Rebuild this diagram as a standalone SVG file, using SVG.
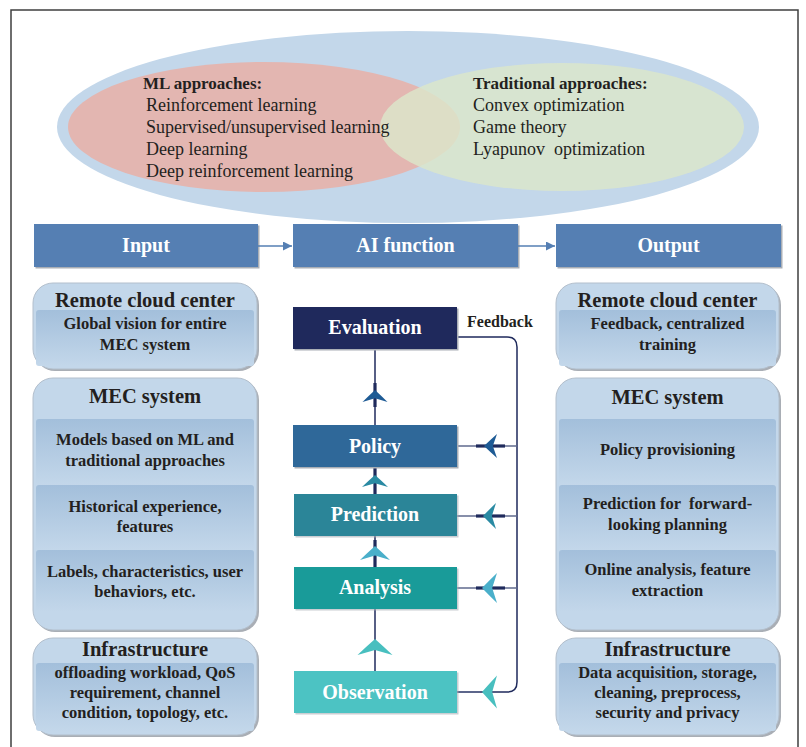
<svg xmlns="http://www.w3.org/2000/svg" width="806" height="747" viewBox="0 0 806 747">
<defs>
<style>
.t{font-family:"Liberation Serif","Times New Roman",serif;fill:#231f20}
.b{font-weight:bold}
.pre{white-space:pre}
.hd{font-family:"Liberation Serif","Times New Roman",serif;font-weight:bold;font-size:20px;fill:#ffffff;text-anchor:middle}
.pt{font-family:"Liberation Serif","Times New Roman",serif;font-weight:bold;font-size:20.5px;fill:#231f20;text-anchor:middle}
.it{font-family:"Liberation Serif","Times New Roman",serif;font-weight:bold;font-size:16.5px;fill:#231f20;text-anchor:middle}
.head{fill:#557fb3}
.shadow{fill:#a9aeb5}
.panel{fill:#c3d7ea;stroke:#b3bfcc;stroke-width:1}
.band{fill:url(#bandg)}
.ln{stroke:#1f2a5c;stroke-width:1.5;fill:none}
.thick{stroke:#1f2a5c;stroke-width:3.2;fill:none}
.hl{stroke:#5f6a8e;stroke-width:1.5;fill:none}
</style>
<linearGradient id="bandg" x1="0" y1="0" x2="0" y2="1">
<stop offset="0" stop-color="#a3bfdb"/>
<stop offset="1" stop-color="#c3d7ea"/>
</linearGradient>
<path id="ah" d="M0,0 Q0.52,0.5 1,1 L0,0.68 L-1,1 Q-0.52,0.5 0,0 Z"/>
<marker id="tri" viewBox="0 0 10 10" refX="10" refY="5" markerWidth="9" markerHeight="9" markerUnits="userSpaceOnUse" orient="auto">
<path d="M0,0 L10,5 L0,10 Z" fill="#557fb3"/>
</marker>
</defs>

<rect x="0" y="0" width="806" height="747" fill="#ffffff"/>
<path d="M11,747 V10 H798 V747" fill="none" stroke="#3f3f3f" stroke-width="1.5"/>

<g id="venn">
<ellipse cx="408" cy="127" rx="351" ry="96" fill="#c3d7ea"/>
<ellipse cx="264" cy="127" rx="196" ry="65" fill="#e3b6b1"/>
<ellipse cx="562" cy="127" rx="182" ry="64" fill="#dce7cb" fill-opacity="0.82"/>
<text class="t b" x="143" y="89" font-size="17">ML approaches:</text>
<text class="t" x="146" y="111" font-size="18">Reinforcement learning</text>
<text class="t" x="146" y="133" font-size="18">Supervised/unsupervised learning</text>
<text class="t" x="146" y="155" font-size="18">Deep learning</text>
<text class="t" x="146" y="177" font-size="18">Deep reinforcement learning</text>
<text class="t b" x="473" y="89" font-size="17">Traditional approaches:</text>
<text class="t" x="473" y="111" font-size="18">Convex optimization</text>
<text class="t" x="473" y="133" font-size="18">Game theory</text>
<text class="t pre" x="473" y="155" font-size="18">Lyapunov  optimization</text>
</g>

<g id="header-input">
<rect class="shadow" x="35.5" y="225.5" width="224" height="43"/>
<rect class="head" x="34" y="224" width="224" height="43"/>
<text class="hd" x="146" y="252">Input</text>
</g>
<g id="header-ai">
<rect class="shadow" x="294.5" y="225.5" width="225" height="43"/>
<rect class="head" x="293" y="224" width="225" height="43"/>
<text class="hd" x="405.5" y="252">AI function</text>
</g>
<g id="header-output">
<rect class="shadow" x="557.5" y="225.5" width="225" height="43"/>
<rect class="head" x="556" y="224" width="225" height="43"/>
<text class="hd" x="668.5" y="252">Output</text>
</g>

<g id="left-cloud">
<rect class="shadow" x="35" y="285" width="224" height="86" rx="20"/>
<rect class="panel" x="33" y="283" width="224" height="86" rx="20"/>
<rect class="band" x="36" y="310" width="218" height="56" rx="3"/>
<text class="pt" x="145" y="307">Remote cloud center</text>
<text class="it" x="145" y="329">Global vision for entire</text>
<text class="it" x="145" y="350">MEC system</text>
</g>
<g id="left-mec">
<rect class="shadow" x="35" y="380" width="224" height="252" rx="20"/>
<rect class="panel" x="33" y="378" width="224" height="252" rx="20"/>
<rect class="band" x="36" y="419" width="218" height="66" rx="3"/>
<rect class="band" x="36" y="485" width="218" height="65" rx="3"/>
<rect class="band" x="36" y="550" width="218" height="62" rx="3"/>
<text class="pt" x="145" y="403">MEC system</text>
<text class="it" x="145" y="445">Models based on ML and</text>
<text class="it" x="145" y="466">traditional approaches</text>
<text class="it" x="145" y="512">Historical experience,</text>
<text class="it" x="145" y="532">features</text>
<text class="it" x="145" y="577">Labels, characteristics, user</text>
<text class="it" x="145" y="597">behaviors, etc.</text>
</g>
<g id="left-infra">
<rect class="shadow" x="35" y="640" width="224" height="97" rx="20"/>
<rect class="panel" x="33" y="638" width="224" height="97" rx="20"/>
<rect class="band" x="36" y="663" width="218" height="68" rx="3"/>
<text class="pt" x="145" y="656">Infrastructure</text>
<text class="it" x="145" y="678">offloading workload, QoS</text>
<text class="it" x="145" y="698">requirement, channel</text>
<text class="it" x="145" y="718">condition, topology, etc.</text>
</g>

<g id="right-cloud">
<rect class="shadow" x="558" y="285" width="223" height="86" rx="20"/>
<rect class="panel" x="556" y="283" width="223" height="86" rx="20"/>
<rect class="band" x="559" y="310" width="217" height="56" rx="3"/>
<text class="pt" x="667.5" y="307">Remote cloud center</text>
<text class="it" x="667.5" y="329">Feedback, centralized</text>
<text class="it" x="667.5" y="350">training</text>
</g>
<g id="right-mec">
<rect class="shadow" x="558" y="380" width="223" height="252" rx="20"/>
<rect class="panel" x="556" y="378" width="223" height="252" rx="20"/>
<rect class="band" x="559" y="419" width="217" height="66" rx="3"/>
<rect class="band" x="559" y="485" width="217" height="65" rx="3"/>
<rect class="band" x="559" y="550" width="217" height="62" rx="3"/>
<text class="pt" x="667.5" y="404">MEC system</text>
<text class="it" x="667.5" y="455">Policy provisioning</text>
<text class="it pre" x="667.5" y="509">Prediction for  forward-</text>
<text class="it" x="667.5" y="530">looking planning</text>
<text class="it" x="667.5" y="575">Online analysis, feature</text>
<text class="it" x="667.5" y="596">extraction</text>
</g>
<g id="right-infra">
<rect class="shadow" x="558" y="640" width="223" height="97" rx="20"/>
<rect class="panel" x="556" y="638" width="223" height="97" rx="20"/>
<rect class="band" x="559" y="663" width="217" height="68" rx="3"/>
<text class="pt" x="667.5" y="656">Infrastructure</text>
<text class="it" x="667.5" y="678">Data acquisition, storage,</text>
<text class="it" x="667.5" y="698">cleaning, preprocess,</text>
<text class="it" x="667.5" y="718">security and privacy</text>
</g>

<g id="connectors">
<line x1="258" y1="246" x2="292" y2="246" stroke="#557fb3" stroke-width="1.5" marker-end="url(#tri)"/>
<line x1="518" y1="246" x2="555" y2="246" stroke="#557fb3" stroke-width="1.5" marker-end="url(#tri)"/>

<path class="ln" d="M457,337 H507 Q517,337 517,347 V682 Q517,692 507,692 H457"/>
<line class="ln" x1="375" y1="349" x2="375" y2="425"/>
<line class="thick" x1="375" y1="383" x2="375" y2="407"/>
<line class="thick" x1="375" y1="467" x2="375" y2="494"/>
<line class="ln" x1="375" y1="536" x2="375" y2="567"/>
<line class="thick" x1="375" y1="540" x2="375" y2="567"/>
<line class="ln" x1="375" y1="609" x2="375" y2="671"/>

<line class="hl" x1="457" y1="446" x2="517" y2="446"/>
<line class="thick" x1="476" y1="446" x2="505" y2="446"/>
<line class="hl" x1="457" y1="516" x2="517" y2="516"/>
<line class="thick" x1="476" y1="516" x2="505" y2="516"/>
<line class="hl" x1="457" y1="588" x2="517" y2="588"/>
<line class="thick" x1="476" y1="588" x2="505" y2="588"/>
<line class="hl" x1="457" y1="692" x2="480" y2="692"/>

<use href="#ah" transform="translate(375,390) scale(12.5,12)" fill="#1e5b95"/>
<use href="#ah" transform="translate(375,475) scale(13,12)" fill="#2a8aa3"/>
<use href="#ah" transform="translate(375,546) scale(15,14)" fill="#4aafca"/>
<use href="#ah" transform="translate(375,639) scale(17.5,16)" fill="#48bfbf"/>

<use href="#ah" transform="translate(484,446) rotate(-90) scale(12,13)" fill="#1e5b95"/>
<use href="#ah" transform="translate(483,516) rotate(-90) scale(13,13)" fill="#2a8aa3"/>
<use href="#ah" transform="translate(482,588) rotate(-90) scale(15,15)" fill="#4aafca"/>
<use href="#ah" transform="translate(482,692) rotate(-90) scale(16.5,15)" fill="#48bfbf"/>
</g>

<g id="evaluation">
<rect class="shadow" x="294.5" y="308.5" width="164" height="42"/>
<rect x="293" y="307" width="164" height="42" fill="#1f295c"/>
<text class="hd" x="375" y="334">Evaluation</text>
</g>
<text id="feedback-label" class="t b" x="467" y="327" font-size="16">Feedback</text>
<g id="policy">
<rect class="shadow" x="294.5" y="426.5" width="164" height="42"/>
<rect x="293" y="425" width="164" height="42" fill="#2f6899"/>
<text class="hd" x="375" y="453">Policy</text>
</g>
<g id="prediction">
<rect class="shadow" x="295.5" y="495.5" width="163" height="42" fill-opacity="0.6"/>
<rect x="294" y="494" width="163" height="42" fill="#2b8598"/>
<text class="hd" x="375" y="521">Prediction</text>
</g>
<g id="analysis">
<rect class="shadow" x="295.5" y="568.5" width="163" height="42" fill-opacity="0.6"/>
<rect x="294" y="567" width="163" height="42" fill="#199b99"/>
<text class="hd" x="375" y="594">Analysis</text>
</g>
<g id="observation">
<rect class="shadow" x="295.5" y="672.5" width="163" height="42" fill-opacity="0.6"/>
<rect x="294" y="671" width="163" height="42" fill="#4cc3c3"/>
<text class="hd" x="375" y="699">Observation</text>
</g>
</svg>
